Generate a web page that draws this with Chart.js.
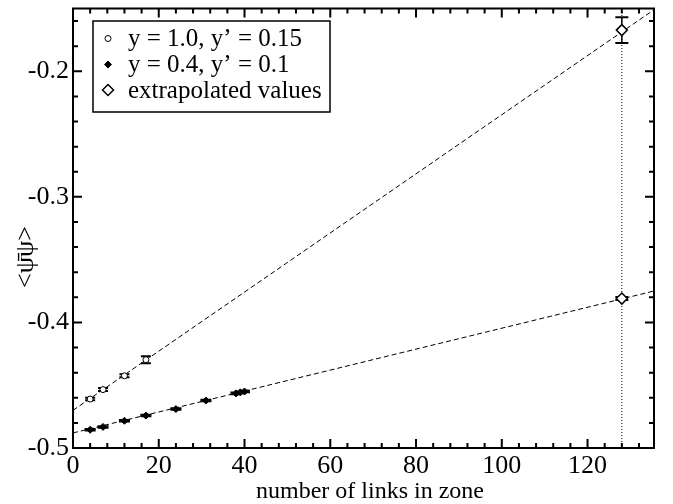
<!DOCTYPE html>
<html>
<head>
<meta charset="utf-8">
<script src="https://cdn.jsdelivr.net/npm/chart.js@4.4.1/dist/chart.umd.min.js"></script>
<style>
  html, body { margin: 0; padding: 0; background: #fff; }
  #wrap { width: 673px; height: 504px; }
</style>
</head>
<body>
<div id="wrap"><canvas id="chart" width="673" height="504"></canvas></div>
<script>
// fitted lines, given by their end points
var fitX     = [0, 135.5];
var fitUpper = [-0.470, -0.151];
var fitLower = [-0.488, -0.375];

// y = 1.0, y' = 0.15
var set1X   = [4, 7, 12, 17];
var set1Y   = [-0.4610, -0.4535, -0.4425, -0.4297];
var set1Err = [0.0010, 0.0012, 0.0012, 0.0028];

// y = 0.4, y' = 0.1
var set2X   = [4, 7, 12, 17, 24, 31, 38, 39, 40];
var set2Y   = [-0.4855, -0.4832, -0.4783, -0.4742, -0.4690, -0.4622, -0.4565, -0.4557, -0.4550];
var set2Err = [0.0006, 0.0006, 0.0006, 0.0006, 0.0006, 0.0006, 0.0006, 0.0006, 0.0006];

// extrapolated values
var extX   = [128, 128];
var extY   = [-0.1672, -0.3810];
var extErr = [0.0103, 0.0012];

var xTicks = [0, 20, 40, 60, 80, 100, 120];
var yTicks = [-0.5, -0.4, -0.3, -0.2];
var legendLabels = ['y = 1.0, y\u2019 = 0.15', 'y = 0.4, y\u2019 = 0.1', 'extrapolated values'];
var xTitle = 'number of links in zone';
var yTitle = '<\u03C8\u0304\u03C8>';

var SERIF = '"Liberation Serif", "DejaVu Serif", serif';

function pts(xs, ys) {
  return xs.map(function (x, i) { return {x: x, y: ys[i]}; });
}

// each error bar: low end, high end, then a gap
function bars(xs, ys, es) {
  var out = [];
  xs.forEach(function (x, i) {
    out.push({x: x, y: ys[i] - es[i]});
    out.push({x: x, y: ys[i] + es[i]});
    out.push({x: x, y: null});
  });
  return out;
}

function lineSet(data, dash) {
  return {
    type: 'line', data: data, showLine: true, spanGaps: false,
    borderColor: '#000', borderWidth: 1, borderDash: dash,
    pointRadius: 0, fill: false, order: 5
  };
}

function barSet(data, cap) {
  return {
    type: 'line', data: data, showLine: true, spanGaps: false,
    borderColor: '#000', borderWidth: 1.5,
    pointStyle: 'line', pointRadius: cap, pointBorderWidth: 2,
    pointBorderColor: '#000', fill: false, order: 3
  };
}

var frame = {
  id: 'frame',
  afterDraw: function (chart) {
    var ctx = chart.ctx, a = chart.chartArea;
    var x = chart.scales.x, y = chart.scales.y;
    ctx.save();
    ctx.strokeStyle = '#000';
    ctx.lineWidth = 2;
    ctx.strokeRect(a.left, a.top, a.right - a.left, a.bottom - a.top);

    // inward ticks on all four sides
    ctx.beginPath();
    for (var v = 4; v < x.max; v += 4) {
      var px = x.getPixelForValue(v);
      var len = (v % 20 === 0) ? 9 : 5;
      ctx.moveTo(px, a.bottom); ctx.lineTo(px, a.bottom - len);
      ctx.moveTo(px, a.top);    ctx.lineTo(px, a.top + len);
    }
    for (var k = 1; k < 18; k++) {
      var py = y.getPixelForValue(-0.5 + 0.02 * k);
      var l2 = (k % 5 === 0) ? 9 : 5;
      ctx.moveTo(a.left, py);  ctx.lineTo(a.left + l2, py);
      ctx.moveTo(a.right, py); ctx.lineTo(a.right - l2, py);
    }
    ctx.stroke();

    // axis titles
    ctx.fillStyle = '#000';
    ctx.font = '24px ' + SERIF;
    ctx.textAlign = 'center';
    ctx.textBaseline = 'middle';
    ctx.fillText(xTitle, 370, 492);
    ctx.save();
    ctx.translate(26, 257);
    ctx.rotate(-Math.PI / 2);
    ctx.font = '26px ' + SERIF;
    ctx.fillText(yTitle, 0, 0);
    ctx.restore();

    // legend
    ctx.lineWidth = 1.5;
    ctx.strokeRect(93, 21, 237, 91);
    var rows = [38.5, 64.5, 90];
    var marks = [
      {pointStyle: 'circle', radius: 3, borderWidth: 1, fill: '#fff'},
      {pointStyle: 'rectRot', radius: 3.5, borderWidth: 1, fill: '#000'},
      {pointStyle: 'rectRot', radius: 5.5, borderWidth: 1.5, fill: '#fff'}
    ];
    ctx.font = '25px ' + SERIF;
    ctx.textAlign = 'left';
    legendLabels.forEach(function (t, i) {
      ctx.fillStyle = marks[i].fill;
      ctx.strokeStyle = '#000';
      ctx.lineWidth = marks[i].borderWidth;
      Chart.helpers.drawPoint(ctx, marks[i], 108, rows[i]);
      ctx.fillStyle = '#000';
      ctx.fillText(t, 128, rows[i] + 1);
    });
    ctx.restore();
  }
};

window.onload = function () {
  var ctx = document.getElementById('chart').getContext('2d');
  new Chart(ctx, {
    type: 'scatter',
    data: {
      datasets: [
        lineSet(pts(fitX, fitUpper), [5, 3]),
        lineSet(pts(fitX, fitLower), [5, 3]),
        lineSet([{x: extX[0], y: -0.5}, {x: extX[0], y: -0.15}], [1, 2]),
        barSet(bars(set1X, set1Y, set1Err), 5),
        barSet(bars(set2X, set2Y, set2Err), 5.5),
        barSet(bars(extX, extY, extErr), 6.5),
        {
          data: pts(set1X, set1Y), pointStyle: 'circle', pointRadius: 3,
          backgroundColor: '#fff', borderColor: '#000', borderWidth: 1, order: 1
        },
        {
          data: pts(set2X, set2Y), pointStyle: 'rectRot', pointRadius: 3.5,
          backgroundColor: '#000', borderColor: '#000', borderWidth: 1, order: 1
        },
        {
          data: pts(extX, extY), pointStyle: 'rectRot', pointRadius: 5.5,
          backgroundColor: '#fff', borderColor: '#000', borderWidth: 1.5, order: 1
        }
      ]
    },
    options: {
      responsive: false,
      animation: false,
      devicePixelRatio: 1,
      layout: { padding: { top: 6, right: 19, left: 0, bottom: 0 } },
      plugins: { legend: { display: false }, tooltip: { enabled: false } },
      scales: {
        x: {
          type: 'linear', min: 0, max: 135.5,
          grid: { display: false, drawTicks: false },
          border: { display: false },
          afterFit: function (s) { s.height = 56; s.paddingLeft = 0; s.paddingRight = 0; },
          afterBuildTicks: function (s) { s.ticks = xTicks.map(function (v) { return {value: v}; }); },
          ticks: {
            color: '#000', padding: 3, maxRotation: 0, autoSkip: false,
            font: { family: SERIF, size: 26 }
          }
        },
        y: {
          type: 'linear', min: -0.5, max: -0.15,
          grid: { display: false, drawTicks: false },
          border: { display: false },
          afterFit: function (s) { s.width = 73; s.paddingTop = 0; s.paddingBottom = 0; },
          afterBuildTicks: function (s) { s.ticks = yTicks.map(function (v) { return {value: v}; }); },
          ticks: {
            color: '#000', padding: 4, autoSkip: false,
            font: { family: SERIF, size: 26 },
            callback: function (v) { return v.toFixed(1); }
          }
        }
      }
    },
    plugins: [frame]
  });
};
</script>
</body>
</html>
